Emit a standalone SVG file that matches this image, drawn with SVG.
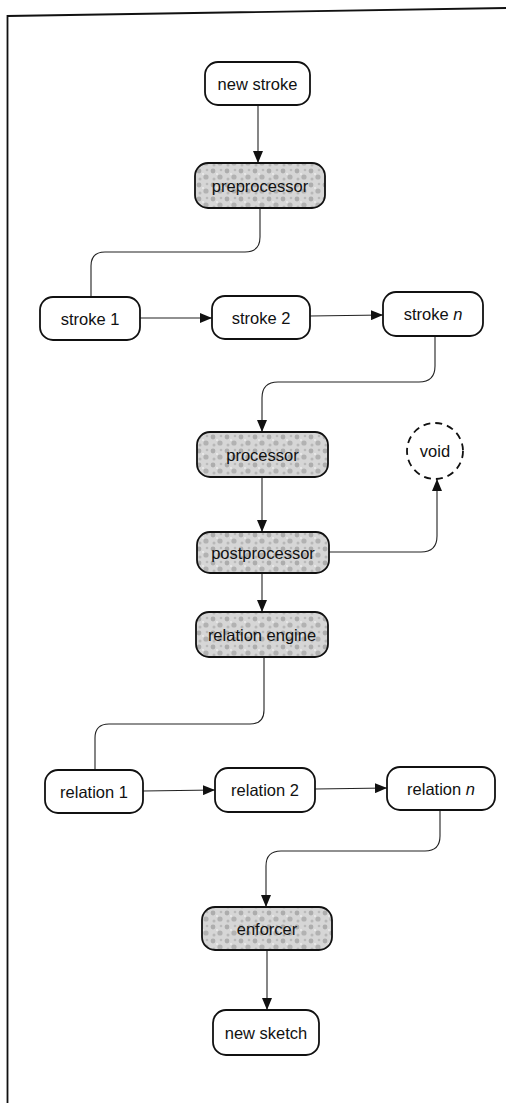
<svg xmlns="http://www.w3.org/2000/svg" width="506" height="1103" viewBox="0 0 506 1103">
  <defs>
    <!-- stipple fill for processing stages -->
    <pattern id="stipple" width="14" height="14" patternUnits="userSpaceOnUse">
      <rect width="14" height="14" fill="#d6d6d6"/>
      <circle cx="3" cy="3" r="2.4" fill="#adadad"/>
      <circle cx="10" cy="9" r="2.6" fill="#b2b2b2"/>
      <circle cx="11" cy="2" r="1.3" fill="#bababa"/>
      <circle cx="4" cy="11" r="1.5" fill="#b8b8b8"/>
      <circle cx="7" cy="6" r="1" fill="#ececec"/>
    </pattern>
    <marker id="arrow" viewBox="0 0 12 10" refX="12" refY="5" markerWidth="12" markerHeight="10" markerUnits="userSpaceOnUse" orient="auto">
      <path d="M0,0 L12,5 L0,10 Z" fill="#111"/>
    </marker>
  </defs>
  <style>
    .box { fill: #fff; stroke: #111; stroke-width: 1.8; }
    .stage { fill: url(#stipple); stroke: #111; stroke-width: 1.8; }
    .void { fill: #fff; stroke: #111; stroke-width: 1.8; stroke-dasharray: 7 5; }
    .lbl { font-family: "Liberation Sans", Arial, sans-serif; font-size: 16.5px; fill: #111; text-anchor: middle; dominant-baseline: central; }
    .edge { fill: none; stroke: #222; stroke-width: 1.1; }
    .frame { fill: none; stroke: #111; stroke-width: 1.8; }
  </style>

  <rect width="506" height="1103" fill="#fff"/>

  <!-- page frame -->
  <path class="frame" d="M7.5,1103 L7.5,16 L506,8"/>

  <!-- connectors -->
  <g id="connectors">
    <path class="edge" marker-end="url(#arrow)" d="M258,105 L258,163"/>
    <path class="edge" d="M260,208 L260,237 Q260,252 245,252 L105,252 Q91,252 91,266 L91,297"/>
    <path class="edge" marker-end="url(#arrow)" d="M140,318 L212,318"/>
    <path class="edge" marker-end="url(#arrow)" d="M310,316 L383,315"/>
    <path class="edge" marker-end="url(#arrow)" d="M435,336 L435,366 Q435,382 419,382 L278,382 Q262,382 262,398 L262,432"/>
    <path class="edge" marker-end="url(#arrow)" d="M262,477 L262,532"/>
    <path class="edge" marker-end="url(#arrow)" d="M329,552 L421,552 Q437,552 437,536 L437,479"/>
    <path class="edge" marker-end="url(#arrow)" d="M262,573 L262,612"/>
    <path class="edge" d="M264,657 L264,710 Q264,724 250,724 L109,724 Q95,724 95,738 L95,770"/>
    <path class="edge" marker-end="url(#arrow)" d="M143,791 L215,790"/>
    <path class="edge" marker-end="url(#arrow)" d="M315,789 L387,788"/>
    <path class="edge" marker-end="url(#arrow)" d="M440,810 L440,836 Q440,851 425,851 L281,851 Q266,851 266,866 L266,907"/>
    <path class="edge" marker-end="url(#arrow)" d="M267,950 L267,1010"/>
  </g>

  <!-- nodes -->
  <g id="new-stroke">
    <rect class="box" x="205" y="62" width="105" height="43" rx="13"/>
    <text class="lbl" x="257.5" y="84">new stroke</text>
  </g>
  <g id="preprocessor">
    <rect class="stage" x="195" y="163" width="130" height="45" rx="13"/>
    <text class="lbl" x="260" y="185.5">preprocessor</text>
  </g>
  <g id="stroke-1">
    <rect class="box" x="40" y="297" width="100" height="43" rx="13"/>
    <text class="lbl" x="90" y="319">stroke 1</text>
  </g>
  <g id="stroke-2">
    <rect class="box" x="212" y="296" width="98" height="43" rx="13"/>
    <text class="lbl" x="261" y="318">stroke 2</text>
  </g>
  <g id="stroke-n">
    <rect class="box" x="383" y="292" width="100" height="44" rx="13"/>
    <text class="lbl" x="433" y="314">stroke <tspan font-style="italic">n</tspan></text>
  </g>
  <g id="processor">
    <rect class="stage" x="197" y="432" width="131" height="45" rx="13"/>
    <text class="lbl" x="262.5" y="454.5">processor</text>
  </g>
  <g id="void">
    <circle class="void" cx="435" cy="451" r="28"/>
    <text class="lbl" x="435" y="451">void</text>
  </g>
  <g id="postprocessor">
    <rect class="stage" x="197" y="532" width="132" height="41" rx="13"/>
    <text class="lbl" x="263" y="552.5">postprocessor</text>
  </g>
  <g id="relation-engine">
    <rect class="stage" x="196" y="612" width="132" height="45" rx="13"/>
    <text class="lbl" x="262" y="634.5">relation engine</text>
  </g>
  <g id="relation-1">
    <rect class="box" x="45" y="770" width="98" height="43" rx="13"/>
    <text class="lbl" x="94" y="792">relation 1</text>
  </g>
  <g id="relation-2">
    <rect class="box" x="215" y="768" width="100" height="44" rx="13"/>
    <text class="lbl" x="265" y="790">relation 2</text>
  </g>
  <g id="relation-n">
    <rect class="box" x="387" y="767" width="108" height="43" rx="13"/>
    <text class="lbl" x="441" y="789">relation <tspan font-style="italic">n</tspan></text>
  </g>
  <g id="enforcer">
    <rect class="stage" x="202" y="907" width="130" height="43" rx="13"/>
    <text class="lbl" x="267" y="928.5">enforcer</text>
  </g>
  <g id="new-sketch">
    <rect class="box" x="213" y="1010" width="106" height="45" rx="13"/>
    <text class="lbl" x="266" y="1032.5">new sketch</text>
  </g>
</svg>
